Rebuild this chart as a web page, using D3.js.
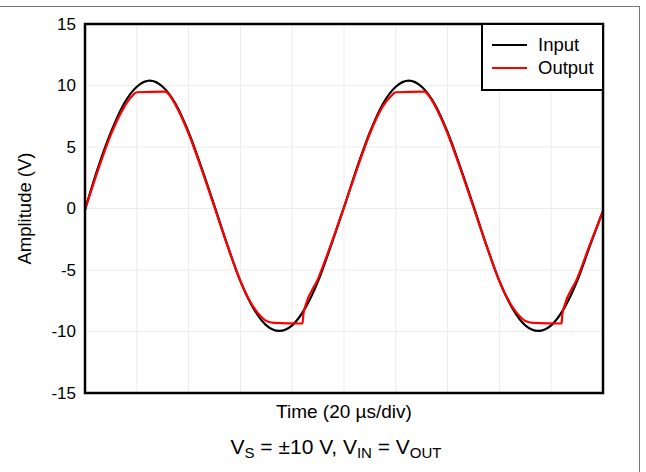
<!DOCTYPE html>
<html>
<head>
<meta charset="utf-8">
<script src="https://cdn.jsdelivr.net/npm/d3@7"></script>
<style>
  body { margin: 0; background: #fff; }
  text { font-family: "Liberation Sans", Arial, sans-serif; fill: #000; }
</style>
</head>
<body>
<div id="chart"></div>
<script>
// values
const inputTime = [0, 5, 10, 15, 20, 25, 30, 35, 40, 45, 50, 55, 60, 65, 70, 75, 80, 85, 90, 95,
  100, 105, 110, 115, 120, 125, 130, 135, 140, 145, 150, 155, 160, 165, 170, 175, 180, 185, 190, 195, 200];
const inputV = [-0.1, 3.3, 6.2, 8.5, 9.9, 10.4, 9.9, 8.5, 6.2, 3.3, 0.2, -3.0, -5.9, -8.1, -9.5, -9.95, -9.5, -8.1, -5.9, -3.0,
  0.1, 3.3, 6.2, 8.5, 9.9, 10.4, 9.9, 8.5, 6.2, 3.3, 0.2, -3.0, -5.9, -8.1, -9.5, -9.95, -9.5, -8.1, -5.9, -3.0, -0.2];

const outputTime = [0, 5, 10, 15, 18, 20, 31, 33, 35, 40, 45, 50, 55, 60, 65, 68, 70, 73, 84, 84.3, 85, 90, 95,
  100, 105, 110, 115, 118, 120, 131, 133, 135, 140, 145, 150, 155, 160, 165, 168, 170, 173, 184, 184.3, 185, 190, 195, 200];
const outputV = [-0.1, 3.1, 6.0, 8.2, 9.1, 9.45, 9.5, 9.1, 8.4, 6.1, 3.2, 0.1, -3.0, -5.9, -8.0, -8.8, -9.15, -9.3, -9.35, -8.6, -8.0, -5.7, -2.9,
  0.1, 3.2, 6.1, 8.3, 9.1, 9.45, 9.5, 9.1, 8.4, 6.1, 3.2, 0.1, -3.0, -5.9, -8.0, -8.8, -9.15, -9.3, -9.35, -8.6, -8.0, -5.7, -2.9, -0.2];

const yTicks = [-15, -10, -5, 0, 5, 10, 15];
const xGrid = [0, 20, 40, 60, 80, 100, 120, 140, 160, 180, 200];
const seriesNames = ["Input", "Output"];
const seriesColors = ["#000000", "#ff0000"];

const W = 646, H = 472;
const margin = { top: 24, right: 43, bottom: 79, left: 85 };
const width = W - margin.left - margin.right;
const height = H - margin.top - margin.bottom;

const svg = d3.select("#chart").append("svg")
  .attr("width", W)
  .attr("height", H);

// outer frame lines (top and right)
svg.append("line").attr("x1", 0).attr("x2", 640).attr("y1", 6.5).attr("y2", 6.5)
  .attr("stroke", "#777").attr("stroke-width", 1);
svg.append("line").attr("x1", 639.5).attr("x2", 639.5).attr("y1", 6).attr("y2", H)
  .attr("stroke", "#777").attr("stroke-width", 1);

const x = d3.scaleLinear().domain([0, 200]).range([0, width]);
const y = d3.scaleLinear().domain([-15, 15]).range([height, 0]);

const g = svg.append("g").attr("transform", `translate(${margin.left},${margin.top})`);

// grid
g.append("g").selectAll("line").data(xGrid).enter().append("line")
  .attr("x1", d => x(d)).attr("x2", d => x(d))
  .attr("y1", 0).attr("y2", height)
  .attr("stroke", "#ececec").attr("stroke-width", 1);
g.append("g").selectAll("line").data(yTicks).enter().append("line")
  .attr("x1", 0).attr("x2", width)
  .attr("y1", d => y(d)).attr("y2", d => y(d))
  .attr("stroke", "#ececec").attr("stroke-width", 1);

// y axis labels (plain hyphen minus like the reference)
const yAxis = d3.axisLeft(y).tickValues(yTicks).tickSize(0).tickPadding(9)
  .tickFormat(d => String(d));
const ya = g.append("g").call(yAxis);
ya.select(".domain").remove();
ya.selectAll("text").attr("font-size", "17px").style("font-family", "'Liberation Sans', Arial, sans-serif");

// curves
svg.append("defs").append("clipPath").attr("id", "plot-clip")
  .append("rect").attr("width", width).attr("height", height);

const line = d3.line()
  .x(d => x(d[0]))
  .y(d => y(d[1]))
  .curve(d3.curveMonotoneX);

const inputData = inputTime.map((t, i) => [t, inputV[i]]);
const outputData = outputTime.map((t, i) => [t, outputV[i]]);

const plot = g.append("g").attr("clip-path", "url(#plot-clip)");
plot.append("path").datum(inputData)
  .attr("d", line).attr("fill", "none")
  .attr("stroke", seriesColors[0]).attr("stroke-width", 2.2);
plot.append("path").datum(outputData)
  .attr("d", line).attr("fill", "none")
  .attr("stroke", seriesColors[1]).attr("stroke-width", 2.2);

// plot frame
g.append("rect").attr("width", width).attr("height", height)
  .attr("fill", "none").attr("stroke", "#000").attr("stroke-width", 2.5);

// legend
const lg = g.append("g").attr("transform", `translate(${width - 121},0)`);
lg.append("rect").attr("width", 121).attr("height", 66)
  .attr("fill", "#fff").attr("stroke", "#000").attr("stroke-width", 2);
seriesNames.forEach((name, i) => {
  const yy = 21 + i * 23;
  lg.append("line").attr("x1", 10).attr("x2", 45).attr("y1", yy).attr("y2", yy)
    .attr("stroke", seriesColors[i]).attr("stroke-width", 2.2);
  lg.append("text").attr("x", 56).attr("y", yy).attr("dy", "0.35em")
    .attr("font-size", "18.5px").text(name);
});

// axis titles
svg.append("text")
  .attr("transform", `translate(31,${margin.top + height / 2}) rotate(-90)`)
  .attr("text-anchor", "middle")
  .attr("font-size", "18.5px")
  .text("Amplitude (V)");

svg.append("text")
  .attr("x", margin.left + width / 2).attr("y", 418)
  .attr("text-anchor", "middle")
  .attr("font-size", "19px")
  .text("Time (20 \u00b5s/div)");

// footnote with subscripts
const foot = svg.append("text")
  .attr("x", margin.left + width / 2 - 8).attr("y", 454)
  .attr("text-anchor", "middle")
  .attr("font-size", "21px");
const parts = [
  ["V", false], ["S", true], [" = \u00b110 V, V", false], ["IN", true], [" = V", false], ["OUT", true]
];
parts.forEach(([t, sub]) => {
  foot.append("tspan")
    .attr("font-size", sub ? "15px" : "21px")
    .attr("baseline-shift", sub ? "-4" : null)
    .text(t);
});
</script>
</body>
</html>
